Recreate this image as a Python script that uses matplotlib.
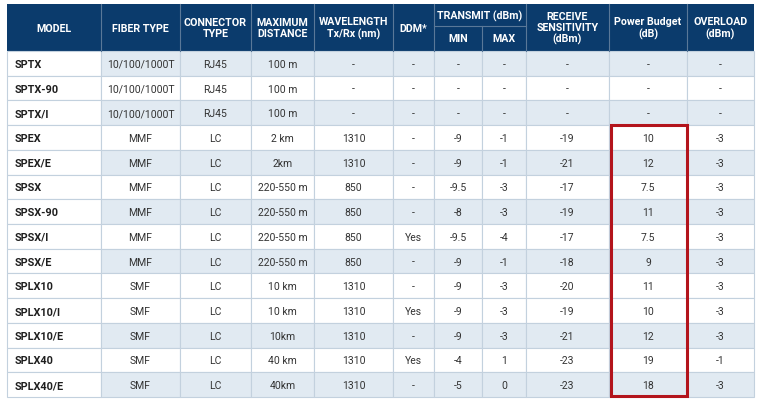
import matplotlib
matplotlib.use("Agg")
import matplotlib.pyplot as plt
from matplotlib.patches import Rectangle

# table content
models = ["SPTX", "SPTX-90", "SPTX/I", "SPEX", "SPEX/E", "SPSX", "SPSX-90",
          "SPSX/I", "SPSX/E", "SPLX10", "SPLX10/I", "SPLX10/E", "SPLX40", "SPLX40/E"]
fiber_type = ["10/100/1000T"] * 3 + ["MMF"] * 6 + ["SMF"] * 5
connector = ["RJ45"] * 3 + ["LC"] * 11
max_distance = ["100 m", "100 m", "100 m", "2 km", "2km", "220-550 m", "220-550 m",
                "220-550 m", "220-550 m", "10 km", "10 km", "10km", "40 km", "40km"]
wavelength = ["-", "-", "-", "1310", "1310", "850", "850", "850", "850",
              "1310", "1310", "1310", "1310", "1310"]
ddm = ["-", "-", "-", "-", "-", "-", "-", "Yes", "-", "-", "Yes", "-", "Yes", "-"]
tx_min = ["-", "-", "-", "-9", "-9", "-9.5", "-8", "-9.5", "-9", "-9", "-9", "-9", "-4", "-5"]
tx_max = ["-", "-", "-", "-1", "-1", "-3", "-3", "-4", "-1", "-3", "-3", "-3", "1", "0"]
rx_sens = ["-", "-", "-", "-19", "-21", "-17", "-19", "-17", "-18", "-20", "-19", "-21", "-23", "-23"]
power_budget = ["-", "-", "-", "10", "12", "7.5", "11", "7.5", "9", "11", "10", "12", "19", "18"]
overload = ["-", "-", "-", "-3", "-3", "-3", "-3", "-3", "-3", "-3", "-3", "-3", "-1", "-3"]
shaded = [1, 0, 1, 0, 1, 0, 1, 0, 1, 0, 0, 1, 0, 1]

headers = ["MODEL", "FIBER TYPE", "CONNECTOR\nTYPE", "MAXIMUM\nDISTANCE",
           "WAVELENGTH\nTx/Rx (nm)", "DDM*", "MIN", "MAX",
           "RECEIVE\nSENSITIVITY\n(dBm)", "Power Budget\n(dB)", "OVERLOAD\n(dBm)"]
columns = [models, fiber_type, connector, max_distance, wavelength, ddm,
           tx_min, tx_max, rx_sens, power_budget, overload]

# layout (pixels)
col_edges = [7, 101, 180, 251, 314, 393, 434, 482, 526, 609, 687, 754]
top, head_bot, split_y = 4, 51, 26
row_h = (397 - head_bot) / len(models)

navy = "#0b3b6c"
light = "#e1eaf2"
grid = "#c3d1de"
red = "#b3141c"
fam = ["Roboto", "DejaVu Sans"]

fig = plt.figure(figsize=(7.6, 4.0), dpi=100)
ax = fig.add_axes([0, 0, 1, 1])
ax.set_xlim(0, 760)
ax.set_ylim(400, 0)
ax.axis("off")

# header block
ax.add_patch(Rectangle((col_edges[0], top), col_edges[-1] - col_edges[0], head_bot - top,
                       facecolor=navy, edgecolor="none"))
for x in col_edges[1:-1]:
    y0 = split_y if x == col_edges[7] else top
    ax.plot([x, x], [y0, head_bot], color="#5a7898", lw=0.8)
ax.plot([col_edges[6], col_edges[8]], [split_y, split_y], color="#5a7898", lw=0.8)

for j, h in enumerate(headers):
    cx = (col_edges[j] + col_edges[j + 1]) / 2
    cy = (top + head_bot) / 2 + 1
    if j in (6, 7):
        cy = (split_y + head_bot) / 2 + 1
    ax.text(cx, cy, h, ha="center", va="center", color="white", fontsize=7.7,
            fontweight="bold", family=fam, linespacing=1.1)
ax.text((col_edges[6] + col_edges[8]) / 2, (top + split_y) / 2 + 1, "TRANSMIT (dBm)",
        ha="center", va="center", color="white", fontsize=7.7, fontweight="bold", family=fam)

# body
for i in range(len(models)):
    y = head_bot + i * row_h
    cy = y + row_h / 2 + 1.5
    for j, col in enumerate(columns):
        x0, x1 = col_edges[j], col_edges[j + 1]
        fc = light if (shaded[i] and j > 0) else "white"
        ax.add_patch(Rectangle((x0, y), x1 - x0, row_h, facecolor=fc,
                               edgecolor=grid, lw=0.8))
        if j == 0:
            ax.text(x0 + 8, cy, col[i], ha="left", va="center",
                    fontsize=7.8, fontweight="bold", color="#1e1e1e", family=fam)
        else:
            ax.text((x0 + x1) / 2, cy, col[i], ha="center", va="center",
                    fontsize=7.5, color="#333333", family=fam)

# highlight box on power budget
y_start = head_bot + 3 * row_h
ax.add_patch(Rectangle((col_edges[9] + 1.5, y_start), col_edges[10] - col_edges[9] - 1.5,
                       397 - y_start - 1, facecolor="none", edgecolor=red, lw=2.2, zorder=5))

fig.savefig("out.png", dpi=100)
